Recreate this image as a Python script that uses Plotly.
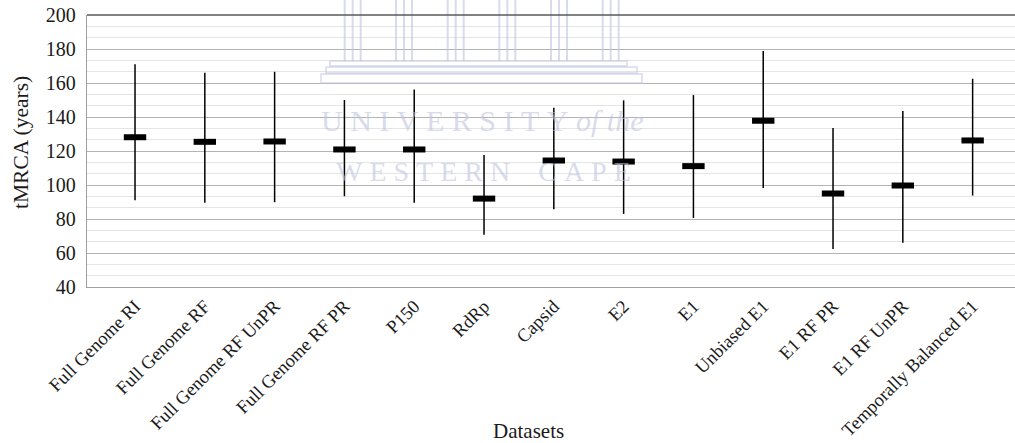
import plotly.graph_objects as go

categories = ["Full Genome RI", "Full Genome RF", "Full Genome RF UnPR", "Full Genome RF PR",
              "P150", "RdRp", "Capsid", "E2", "E1", "Unbiased E1", "E1 RF PR", "E1 RF UnPR",
              "Temporally Balanced E1"]
mean_tmrca = [128.1, 125.4, 125.6, 120.9, 120.9, 92.0, 114.4, 113.8, 111.1, 137.8, 95.0, 99.7, 126.2]
upper_hpd = [171.0, 166.0, 166.6, 150.0, 156.2, 117.6, 145.4, 149.8, 152.9, 178.8, 133.5, 143.5, 162.5]
lower_hpd = [91.0, 89.5, 89.9, 93.4, 89.5, 70.8, 85.7, 83.0, 80.6, 98.3, 62.4, 66.1, 93.8]
y_ticks = [40, 60, 80, 100, 120, 140, 160, 180, 200]

FONT = "Liberation Serif"

err_plus = [u - m for u, m in zip(upper_hpd, mean_tmrca)]
err_minus = [m - l for m, l in zip(mean_tmrca, lower_hpd)]

fig = go.Figure()
fig.add_trace(go.Scatter(
    x=categories, y=mean_tmrca, mode="markers",
    marker=dict(symbol="line-ew", size=16, color="black",
                line=dict(color="black", width=6)),
    error_y=dict(type="data", symmetric=False, array=err_plus, arrayminus=err_minus,
                 color="black", thickness=1.5, width=0),
    showlegend=False, hoverinfo="skip",
))

WM = "rgba(190,195,222,0.6)"
shapes = []
# watermark logo (decorative)
L, T, W, H = 87, 15, 928, 272
def px(x):
    return (x - L) / W
def py(y):
    return (T + H - y) / H
for cx in [352.7, 404, 455.7, 507.3, 559, 610.7]:
    for off in (-8, 0, 8):
        shapes.append(dict(type="line", xref="paper", yref="paper",
                           x0=px(cx + off), x1=px(cx + off), y0=py(0), y1=py(61),
                           line=dict(color=WM, width=2), layer="above"))
for (x0, x1, y0, y1) in [(330, 627, 61, 66), (326, 637, 67, 73), (321, 642, 74, 83)]:
    shapes.append(dict(type="rect", xref="paper", yref="paper",
                       x0=px(x0), x1=px(x1), y0=py(y1), y1=py(y0),
                       line=dict(color=WM, width=1.5), fillcolor="rgba(255,255,255,0)",
                       layer="above"))
# top frame line
shapes.append(dict(type="line", xref="paper", yref="paper", x0=0, x1=1, y0=1, y1=1,
                   line=dict(color="#595959", width=1.3)))

nb = "\u00a0"
annotations = [
    dict(text=nb.join("UNIVERSITY") + nb + "<i>of" + nb + "the</i>", xref="paper", yref="paper",
         x=px(482), y=py(121), xanchor="center", yanchor="middle", showarrow=False,
         font=dict(family=FONT, size=30, color=WM)),
    dict(text=nb.join("WESTERN") + nb * 4 + nb.join("CAPE"), xref="paper", yref="paper",
         x=px(483), y=py(171), xanchor="center", yanchor="middle", showarrow=False,
         font=dict(family=FONT, size=28, color=WM)),
    dict(text="tMRCA (years)", xref="paper", yref="paper", x=px(21), y=py(143),
         xanchor="center", yanchor="middle", textangle=-90, showarrow=False,
         font=dict(family=FONT, size=21.5, color="#1a1a1a")),
    dict(text="Datasets", xref="paper", yref="paper", x=px(528), y=py(431),
         xanchor="center", yanchor="middle", showarrow=False,
         font=dict(family=FONT, size=21, color="#1a1a1a")),
]

fig.update_layout(
    width=1015, height=443,
    margin=dict(l=87, r=0, t=15, b=156, pad=0),
    paper_bgcolor="white", plot_bgcolor="white",
    font=dict(family=FONT, color="#1a1a1a"),
    shapes=shapes, annotations=annotations,
    xaxis=dict(type="category", range=[-0.688, 12.607], tickangle=-45,
               tickfont=dict(family=FONT, size=18.5, color="#1a1a1a"),
               showgrid=False, showline=True, linecolor="#a0a0a0", linewidth=1.3,
               ticks="", zeroline=False),
    yaxis=dict(range=[40, 200], tickvals=y_ticks, ticktext=[str(v) for v in y_ticks],
               tickfont=dict(family=FONT, size=20, color="#1a1a1a"),
               showgrid=True, gridcolor="#b4b4b4", gridwidth=1,
               minor=dict(dtick=20 / 3, tick0=40, showgrid=True, gridcolor="#e4e4e4", gridwidth=1),
               showline=True, linecolor="#a0a0a0", linewidth=1.3,
               ticks="", ticklabelstandoff=6, zeroline=False),
)

fig.write_html("out.html")
